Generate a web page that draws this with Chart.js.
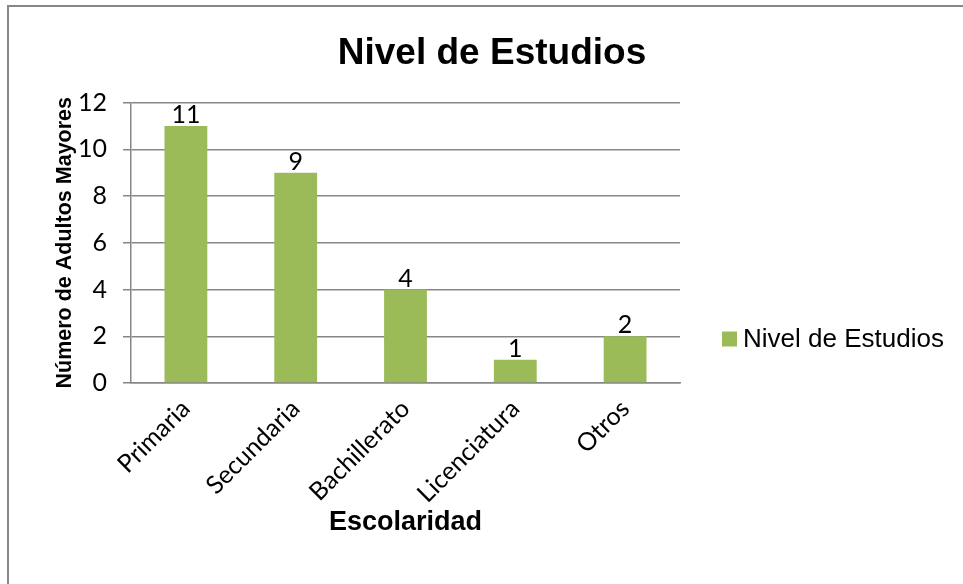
<!DOCTYPE html>
<html>
<head>
<meta charset="utf-8">
<script src="https://cdn.jsdelivr.net/npm/chart.js@4.4.1/dist/chart.umd.min.js"></script>
<style>
  html, body { margin: 0; padding: 0; background: #ffffff; }
  #wrap { position: relative; width: 963px; height: 584px; }
</style>
</head>
<body>
<div id="wrap"><canvas id="c"></canvas></div>
<script>
const categories = ["Primaria", "Secundaria", "Bachillerato", "Licenciatura", "Otros"];
const seriesName = "Nivel de Estudios";
const values = [11, 9, 4, 1, 2];
const yTicks = [0, 2, 4, 6, 8, 10, 12];
const chartTitle = "Nivel de Estudios";
const xTitle = "Escolaridad";
const yTitle = "Número de Adultos Mayores";

const GRID = '#878787';
const GREEN = '#9BBB59';
const ARIAL = '"Liberation Sans", Arial, sans-serif';

const frame = {
  id: 'frame',
  beforeDraw(chart) {
    const ctx = chart.ctx;
    ctx.save();
    ctx.fillStyle = '#ffffff';
    ctx.fillRect(0, 0, chart.width, chart.height);
    ctx.strokeStyle = GRID;
    ctx.lineWidth = 2;
    ctx.strokeRect(8, 6, 2000, 2000);
    ctx.restore();
  }
};

const valueLabels = {
  id: 'valueLabels',
  afterDatasetsDraw(chart) {
    const ctx = chart.ctx;
    ctx.save();
    ctx.font = '25px Lato';
    ctx.fillStyle = '#000000';
    ctx.textAlign = 'center';
    ctx.textBaseline = 'alphabetic';
    chart.data.datasets.forEach((ds, di) => {
      const meta = chart.getDatasetMeta(di);
      meta.data.forEach((bar, i) => {
        ctx.fillText(String(ds.data[i]), bar.x, bar.y - 3);
      });
    });
    ctx.restore();
  }
};

// Legend drawn beside the plot, from the dataset's own label and colour
const sideLegend = {
  id: 'sideLegend',
  afterDraw(chart) {
    const ctx = chart.ctx;
    const area = chart.chartArea;
    const x0 = area.right + 42;
    const yc = area.bottom - 44;
    ctx.save();
    chart.data.datasets.forEach((ds, di) => {
      const y = yc + di * 34;
      ctx.fillStyle = ds.backgroundColor;
      ctx.fillRect(x0, y - 7.5, 15, 15);
      ctx.fillStyle = '#000000';
      ctx.font = '26px ' + ARIAL;
      ctx.textAlign = 'left';
      ctx.textBaseline = 'middle';
      ctx.fillText(ds.label, x0 + 21, y + 1);
    });
    ctx.restore();
  }
};

new Chart(document.getElementById('c'), {
  type: 'bar',
  data: {
    labels: categories,
    datasets: [{
      label: seriesName,
      data: values,
      backgroundColor: GREEN,
      borderWidth: 0,
      categoryPercentage: 1.0,
      barPercentage: 0.39
    }]
  },
  options: {
    responsive: true,
    maintainAspectRatio: false,
    animation: false,
    layout: { padding: { top: 8, left: 33, right: 12, bottom: 10 } },
    plugins: {
      title: {
        display: true,
        text: chartTitle,
        color: '#000000',
        font: { family: ARIAL, size: 37, weight: 'bold' },
        padding: { top: 23.5, bottom: 26.6 }
      },
      legend: { display: false },
      tooltip: { enabled: false }
    },
    scales: {
      x: {
        grid: { display: false },
        border: { display: true, color: GRID, width: 1.5 },
        ticks: {
          color: '#000000',
          font: { family: 'Lato', size: 25 },
          minRotation: 45,
          maxRotation: 45,
          padding: 3,
          autoSkip: false
        },
        title: {
          display: true,
          text: xTitle,
          color: '#000000',
          font: { family: ARIAL, size: 27, weight: 'bold' },
          padding: { top: 0, bottom: 35 }
        },
        afterFit(s) { s.height = 191; }
      },
      y: {
        min: 0,
        max: 12,
        afterBuildTicks(s) { s.ticks = yTicks.map(v => ({ value: v })); },
        grid: { color: GRID, lineWidth: 1.5, drawTicks: true, tickLength: 8, tickColor: GRID },
        border: { display: true, color: GRID, width: 1.5 },
        ticks: {
          color: '#000000',
          font: { family: 'Lato', size: 25 },
          padding: 16
        },
        title: {
          display: true,
          text: yTitle,
          color: '#000000',
          font: { family: ARIAL, size: 21.5, weight: 'bold' },
          padding: { top: 19, bottom: 0 }
        },
        afterFit(s) { s.width = 98; }
      },
      y2: {
        type: 'linear',
        position: 'right',
        display: true,
        grid: { display: false, drawTicks: false },
        border: { display: false },
        ticks: { display: false },
        afterFit(s) { s.width = 271; }
      }
    }
  },
  plugins: [frame, valueLabels, sideLegend]
});
</script>
</body>
</html>
